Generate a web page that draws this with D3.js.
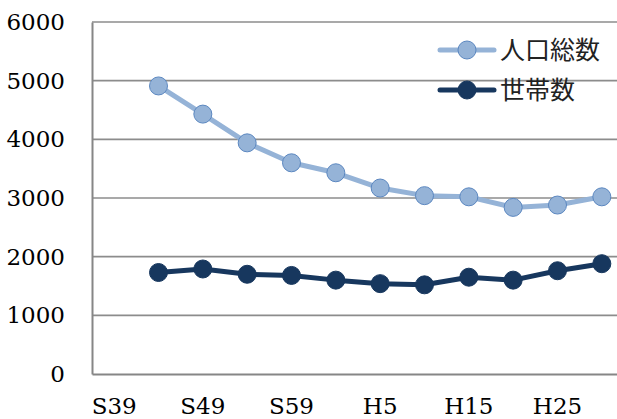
<!DOCTYPE html>
<html>
  <head>
    <meta charset="UTF-8">
    <title>人口総数・世帯数</title>
    <style type="text/css">
      body { margin: 0; background-color: #fff; }
      svg { display: block; }
      .tick text { font-family: "DejaVu Serif", serif; font-size: 23px; fill: #000; }
      .legend text { font-family: "Noto Sans CJK JP", sans-serif; font-size: 25px; fill: #222; }
    </style>
    <script src="https://cdn.jsdelivr.net/npm/d3@7"></script>
  </head>
  <body>
    <div id="chart"></div>
    <script type="text/javascript">
      // categories (every other label is shown)
      var years = ["S39", "S44", "S49", "S54", "S59", "H1", "H5", "H10", "H15", "H20", "H25", "H30"];
      var yTicks = [0, 1000, 2000, 3000, 4000, 5000, 6000];
      var population = [null, 4910, 4430, 3940, 3600, 3430, 3170, 3040, 3020, 2840, 2880, 3020];
      var households = [null, 1730, 1790, 1700, 1680, 1600, 1540, 1520, 1650, 1600, 1760, 1880];
      var seriesNames = ["人口総数", "世帯数"];

      var width = 617, height = 419;
      // plot area ("top" is taken by window.top, so use other names)
      var plotLeft = 92, plotRight = 624, plotTop = 22, plotBottom = 374;

      var svg = d3.select("#chart").append("svg")
        .attr("width", width).attr("height", height);

      var xScale = d3.scaleBand().domain(years).range([plotLeft, plotRight]);
      var yScale = d3.scaleLinear().domain([0, 6000]).range([plotBottom, plotTop]);

      // gridlines
      svg.append("g").selectAll("line")
        .data(yTicks.slice(1))
        .enter().append("line")
        .attr("x1", plotLeft).attr("x2", plotRight)
        .attr("y1", function(d) { return yScale(d); })
        .attr("y2", function(d) { return yScale(d); })
        .attr("stroke", "#8c8c8c").attr("stroke-width", 1.6);

      // y axis
      var yAxis = d3.axisLeft(yScale).tickValues(yTicks).tickSize(0).tickPadding(27)
        .tickFormat(d3.format("d"));
      var yG = svg.append("g").attr("transform", "translate(" + plotLeft + ",0)").call(yAxis);
      yG.select(".domain").attr("stroke", "#868686").attr("stroke-width", 2);

      // x axis
      var xAxis = d3.axisBottom(xScale).tickSize(0).tickPadding(24)
        .tickFormat(function(d, i) { return i % 2 == 0 ? d : ""; });
      var xG = svg.append("g").attr("transform", "translate(0," + plotBottom + ")").call(xAxis);
      xG.select(".domain").attr("stroke", "#868686").attr("stroke-width", 2);

      var series = [
        { name: seriesNames[0], values: population, line: "#95b3d7", fill: "#95b3d7", stroke: "#5b87c0" },
        { name: seriesNames[1], values: households, line: "#17375e", fill: "#17375e", stroke: "#17375e" }
      ];

      var line = d3.line()
        .defined(function(d) { return d.v != null; })
        .x(function(d) { return xScale(d.k) + xScale.bandwidth() / 2; })
        .y(function(d) { return yScale(d.v); });

      series.forEach(function(s) {
        var pts = years.map(function(k, i) { return { k: k, v: s.values[i] }; });
        svg.append("path").datum(pts)
          .attr("d", line)
          .attr("fill", "none")
          .attr("stroke", s.line)
          .attr("stroke-width", 5)
          .attr("stroke-linejoin", "round");
        svg.append("g").selectAll("circle")
          .data(pts.filter(function(d) { return d.v != null; }))
          .enter().append("circle")
          .attr("cx", function(d) { return xScale(d.k) + xScale.bandwidth() / 2; })
          .attr("cy", function(d) { return yScale(d.v); })
          .attr("r", 9)
          .attr("fill", s.fill)
          .attr("stroke", s.stroke)
          .attr("stroke-width", 1);
      });

      // legend
      var legend = svg.append("g").attr("class", "legend");
      series.forEach(function(s, i) {
        var y = 50 + i * 40;
        legend.append("line")
          .attr("x1", 440).attr("x2", 494).attr("y1", y).attr("y2", y)
          .attr("stroke", s.line).attr("stroke-width", 5).attr("stroke-linecap", "round");
        legend.append("circle")
          .attr("cx", 467).attr("cy", y).attr("r", 9)
          .attr("fill", s.fill).attr("stroke", s.stroke).attr("stroke-width", 1);
        legend.append("text")
          .attr("x", 500).attr("y", y).attr("dy", "0.36em")
          .text(s.name);
      });
    </script>
  </body>
</html>
